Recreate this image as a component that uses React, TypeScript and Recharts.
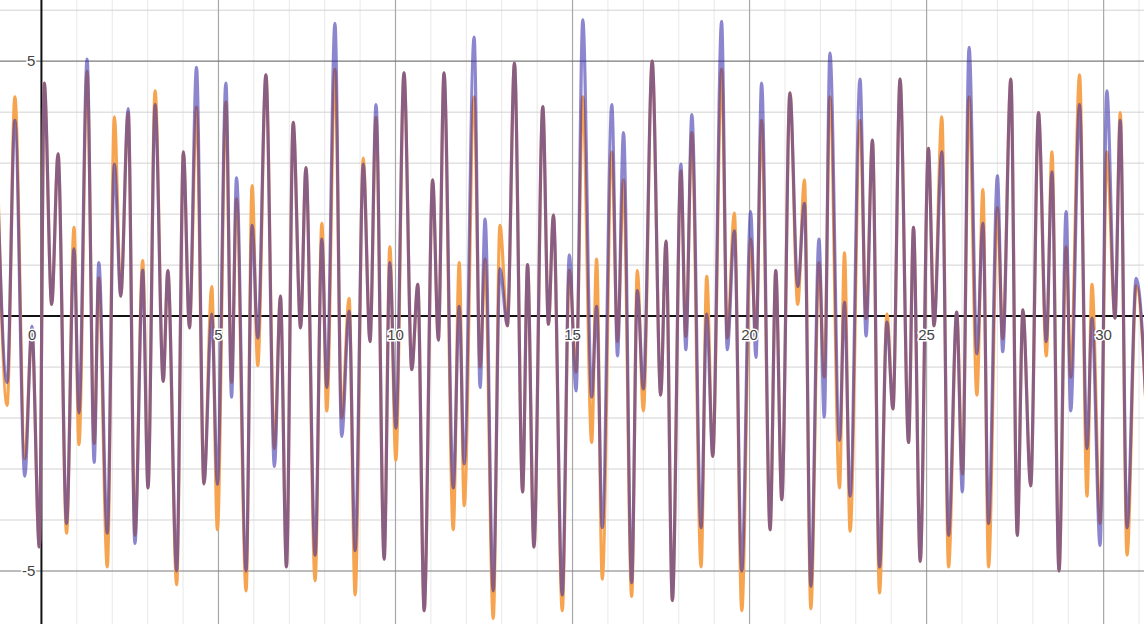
import { CartesianGrid, Line, LineChart, ReferenceDot, ReferenceLine, XAxis, YAxis } from "recharts";

// extrema (x position, orange curve, blue curve)
const X = [
  -1.26, -0.97, -0.75, -0.47, -0.27, -0.06, 0.08, 0.29, 0.47, 0.71, 0.92, 1.06, 1.29, 1.49, 1.62, 1.86,
  2.06, 2.24, 2.45, 2.64, 2.86, 3.01, 3.21, 3.44, 3.57, 3.82, 4.01, 4.18, 4.38, 4.59, 4.81, 4.97,
  5.21, 5.37, 5.51, 5.78, 5.95, 6.11, 6.34, 6.58, 6.75, 6.92, 7.11, 7.32, 7.47, 7.73, 7.92, 8.06,
  8.29, 8.48, 8.69, 8.86, 9.09, 9.28, 9.45, 9.68, 9.84, 10.01, 10.24, 10.46, 10.63, 10.81, 11.05, 11.21,
  11.37, 11.63, 11.8, 11.94, 12.22, 12.39, 12.53, 12.76, 12.95, 13.16, 13.36, 13.59, 13.73, 13.91, 14.16, 14.32,
  14.46, 14.71, 14.91, 15.1, 15.29, 15.54, 15.68, 15.84, 16.11, 16.27, 16.44, 16.67, 16.83, 17.0, 17.25, 17.49,
  17.64, 17.82, 18.06, 18.2, 18.37, 18.63, 18.79, 18.96, 19.21, 19.37, 19.57, 19.78, 20.03, 20.18, 20.34, 20.58,
  20.74, 20.91, 21.14, 21.36, 21.55, 21.73, 21.96, 22.11, 22.27, 22.54, 22.68, 22.84, 23.12, 23.29, 23.47, 23.67,
  23.88, 24.05, 24.25, 24.49, 24.63, 24.82, 25.05, 25.21, 25.43, 25.62, 25.85, 26.01, 26.2, 26.42, 26.59, 26.75,
  27.0, 27.15, 27.38, 27.56, 27.72, 27.94, 28.16, 28.38, 28.54, 28.74, 28.94, 29.07, 29.32, 29.53, 29.67, 29.9,
  30.09, 30.32, 30.47, 30.66, 30.92, 31.31,
];

const ORANGE = [
  3.4, -1.75, 4.3, -2.8, -0.3, -4.53, 4.57, 0.23, 3.18, -4.26, 1.74, -2.52, 4.8, -2.5, 0.75, -4.92,
  3.91, 0.39, 4.0, -4.3, 1.09, -3.37, 4.42, -1.28, 0.89, -5.27, 3.22, -0.23, 4.1, -3.29, 0.58, -4.19,
  4.2, -1.3, 2.3, -5.39, 2.56, -0.97, 4.73, -2.6, 0.39, -4.92, 3.8, -0.23, 2.91, -5.19, 1.82, -1.86,
  4.84, -2.0, 0.35, -5.47, 3.1, -0.5, 3.9, -4.77, 1.36, -2.83, 4.77, -1.05, 0.62, -5.78, 2.67, -0.47,
  4.77, -4.19, 1.05, -3.72, 4.3, -1.0, 1.12, -5.93, 1.78, -0.19, 4.96, -3.45, 1.01, -4.53, 4.11, -0.16,
  1.98, -5.78, 0.9, -1.1, 4.3, -2.48, 1.12, -5.16, 3.22, -0.5, 2.67, -5.5, 0.89, -1.86, 5.0, -1.55,
  1.47, -5.58, 2.85, -0.4, 3.6, -4.92, 0.78, -2.75, 4.84, -0.43, 2.02, -5.78, 1.51, -0.43, 3.84, -4.19,
  0.89, -3.6, 4.38, 0.23, 2.67, -5.74, 1.05, -1.2, 4.3, -3.37, 1.24, -4.22, 3.84, -0.05, 3.45, -5.43,
  0.04, -1.82, 4.65, -2.48, 1.74, -4.81, 3.29, -0.19, 3.91, -4.92, 0.08, -3.1, 4.3, -1.55, 2.48, -4.92,
  2.13, -0.45, 4.65, -4.3, 0.12, -3.33, 3.99, -0.78, 3.22, -5.0, 1.36, -1.2, 4.73, -3.53, 0.62, -4.07,
  3.22, -0.04, 3.99, -4.69, 0.6, -3.5,
];

const BLUE = [
  3.0, -1.3, 3.84, -3.14, -0.2, -4.53, 4.57, 0.23, 3.18, -4.07, 1.32, -1.9, 5.04, -2.87, 1.05, -4.26,
  2.98, 0.39, 4.07, -4.46, 0.9, -3.37, 4.15, -1.28, 0.89, -5.0, 3.22, -0.23, 4.88, -3.29, 0.04, -3.3,
  4.57, -1.59, 2.71, -5.0, 1.78, -0.43, 4.73, -2.95, 0.39, -4.92, 3.8, -0.23, 2.91, -4.69, 1.51, -1.4,
  5.74, -2.36, 0.1, -4.6, 2.98, -0.5, 4.15, -4.77, 1.05, -2.2, 4.77, -1.05, 0.62, -5.78, 2.67, -0.47,
  4.77, -3.37, 0.19, -2.9, 5.47, -1.4, 1.9, -5.39, 0.93, -0.19, 4.96, -3.45, 1.01, -4.53, 4.11, -0.16,
  1.98, -5.47, 1.2, -1.47, 5.81, -1.59, 0.19, -4.15, 4.15, -0.78, 3.6, -5.23, 0.5, -1.43, 5.0, -1.55,
  1.47, -5.58, 2.98, -0.66, 3.95, -4.15, 0.04, -2.75, 5.78, -0.66, 1.67, -5.0, 2.05, -0.81, 4.57, -4.19,
  0.89, -3.6, 4.38, 0.58, 2.21, -5.3, 1.51, -1.98, 5.16, -2.44, 0.27, -3.53, 4.65, -0.39, 3.45, -4.92,
  -0.12, -1.82, 4.65, -2.48, 1.74, -4.81, 3.29, -0.19, 3.22, -4.3, 0.08, -3.45, 5.27, -0.74, 1.82, -4.07,
  2.75, -0.7, 4.65, -4.3, 0.12, -3.33, 3.99, -0.5, 2.83, -5.0, 2.05, -1.86, 4.15, -2.6, -0.04, -4.5,
  4.42, -0.04, 3.84, -4.15, 0.74, -3.5,
];

const X_LABELS = [5, 10, 15, 20, 25, 30];
const Y_LABELS = [5, -5];

const X_DOMAIN: [number, number] = [-1.17, 31.14];
const Y_DOMAIN: [number, number] = [-6.04, 6.2];

const data = X.map((x, i) => ({ x, orange: ORANGE[i], blue: BLUE[i] }));

const range = (a: number, b: number) => {
  const out: number[] = [];
  for (let i = a; i <= b; i++) out.push(i);
  return out;
};
const minorX = range(-1, 31).filter((v) => v % 5 !== 0);
const minorY = range(-6, 6).filter((v) => v % 5 !== 0);
const majorX = range(-1, 31).filter((v) => v % 5 === 0 && v !== 0);
const majorY = range(-6, 6).filter((v) => v % 5 === 0 && v !== 0);

const labelStyle = {
  fontFamily: "'Liberation Sans', Arial, sans-serif",
  fontSize: 15,
  fill: "#444",
  stroke: "#fff",
  strokeWidth: 3,
  paintOrder: "stroke" as const,
};

const tickLabel = (text: string, dx: number, dy: number, anchor: "start" | "middle" | "end") =>
  (props: any) => {
    const vb = props.viewBox || {};
    const cx = vb.x + (vb.width || 0) / 2;
    const cy = vb.y + (vb.height || 0) / 2;
    return (
      <text x={cx + dx} y={cy + dy} textAnchor={anchor} style={labelStyle}>
        {text}
      </text>
    );
  };

export default function App() {
  return (
    <div style={{ position: "fixed", left: 0, top: 0, width: 1144, height: 624, background: "#fff" }}>
      <LineChart width={1144} height={624} data={data} margin={{ top: 0, right: 0, bottom: 0, left: 0 }}>
        <XAxis dataKey="x" type="number" domain={X_DOMAIN} allowDataOverflow hide />
        <YAxis type="number" domain={Y_DOMAIN} allowDataOverflow hide />
        <CartesianGrid horizontal={false} verticalValues={minorX} stroke="#e8e8e8" strokeWidth={1} />
        <CartesianGrid vertical={false} horizontalValues={minorY} stroke="#d2d2d2" strokeWidth={1} />
        <CartesianGrid horizontal={false} verticalValues={majorX} stroke="#a8a8a8" strokeWidth={1.2} />
        <CartesianGrid vertical={false} horizontalValues={majorY} stroke="#7a7a7a" strokeWidth={1.2} />
        <ReferenceLine y={0} stroke="#111" strokeWidth={2} />
        <ReferenceLine x={0} stroke="#111" strokeWidth={2} />
        <Line
          dataKey="orange"
          type="monotone"
          stroke="#f7a450"
          strokeWidth={3.2}
          dot={false}
          activeDot={false}
          isAnimationActive={false}
        />
        <Line
          dataKey="blue"
          type="monotone"
          stroke="#3228aa"
          strokeOpacity={0.56}
          strokeWidth={3.2}
          dot={false}
          activeDot={false}
          isAnimationActive={false}
        />
        {X_LABELS.map((v) => (
          <ReferenceDot key={"x" + v} x={v} y={0} r={2} fill="none" stroke="none" label={tickLabel(String(v), 0, 24, "middle")} />
        ))}
        {Y_LABELS.map((v) => (
          <ReferenceDot key={"y" + v} x={0} y={v} r={2} fill="none" stroke="none" label={tickLabel(String(v), -6, 5, "end")} />
        ))}
        <ReferenceDot x={0} y={0} r={2} fill="none" stroke="none" label={tickLabel("0", -5, 24, "end")} />
      </LineChart>
    </div>
  );
}
